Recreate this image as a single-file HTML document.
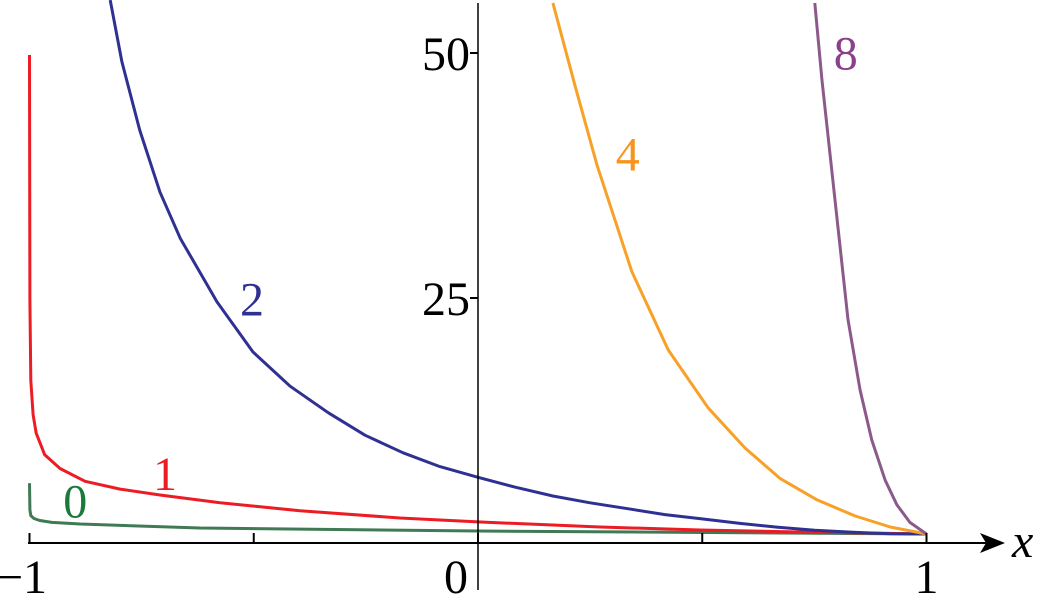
<!DOCTYPE html>
<html><head><meta charset="utf-8"><style>
body{margin:0;background:#fff}
svg text{font-family:"Liberation Serif",serif}
</style></head><body>
<svg id="chart" width="1037" height="594" viewBox="0 0 1037 594" xmlns="http://www.w3.org/2000/svg">
<defs><clipPath id="clip"><rect x="0" y="0" width="1037" height="543"/></clipPath></defs>
<g id="curves" clip-path="url(#clip)"></g>
<g id="axes"></g>
</svg>
<script>
const xTicks=[-1,-0.5,0,0.5,1];
const xTickLabels=["−1","","0","","1"];
const yTicks=[25,50];
const yTickLabels=["25","50"];
const c0x=[-1.0,-0.999,-0.997,-0.99,-0.977,-0.95,-0.887,-0.62,0,1];
const c0y=[6.1,3.4,2.8,2.5,2.3,2.1,1.94,1.53,1.22,0.92];
const c1x=[-1.0,-0.999,-0.997,-0.992,-0.985,-0.966,-0.932,-0.876,-0.798,-0.709,-0.575,-0.397,-0.174,0,0.272,0.495,0.718,1];
const c1y=[49.8,24.8,16.6,13.1,11.2,9.0,7.6,6.3,5.5,4.9,4.1,3.3,2.55,2.15,1.63,1.33,1.12,0.92];
const c2x=[-0.82,-0.794,-0.754,-0.709,-0.664,-0.582,-0.502,-0.419,-0.334,-0.252,-0.167,-0.085,0,0.082,0.167,0.25,0.334,0.417,0.502,0.584,0.669,0.751,0.836,0.919,1];
const c2y=[55.4,49.1,42.1,35.8,31.1,24.6,19.5,16.0,13.3,11.0,9.2,7.8,6.7,5.7,4.8,4.1,3.5,2.9,2.45,2.0,1.6,1.3,1.1,0.95,0.92];
const c4x=[0.167,0.216,0.265,0.343,0.424,0.513,0.595,0.673,0.756,0.841,0.919,1];
const c4y=[55.1,46.7,38.6,27.7,19.7,13.8,9.7,6.6,4.4,2.76,1.63,0.92];
const c8x=[0.751,0.767,0.796,0.825,0.852,0.878,0.908,0.934,0.963,1];
const c8y=[55.1,47.2,35.0,22.8,15.6,10.5,6.4,3.9,2.1,0.92];
const X=v=>478+v*448.5, Y=v=>543-v*9.8;
const NS="http://www.w3.org/2000/svg";
const cg=document.getElementById('curves'), ag=document.getElementById('axes');
function mk(t,a,p){const e=document.createElementNS(NS,t);for(const k in a)e.setAttribute(k,a[k]);p.appendChild(e);return e;}
// [xs, ys, stroke, name, labelX(data), labelBaselineY(data), labelColor, text]
const series=[[c0x,c0y,"#3f7a55","curve-0",-0.898,2.6,"#1a7a3a","0"],[c1x,c1y,"#ec1c24","curve-1",-0.698,5.4,"#ec1c24","1"],[c2x,c2y,"#2e3192","curve-2",-0.504,23.2,"#2e3192","2"],[c4x,c4y,"#f7a128","curve-4",0.334,38.0,"#f7941d","4"],[c8x,c8y,"#8c5a8a","curve-8",0.82,48.3,"#8c3f8a","8"]];
series.forEach(s=>{
 const d=s[0].map((v,i)=>(i?'L':'M')+X(v).toFixed(1)+','+Y(s[1][i]).toFixed(1)).join(' ');
 const p=mk('path',{d:d,fill:'none',stroke:s[2],'stroke-width':3,'stroke-linejoin':'round'},cg);
 
 
 const t=mk('text',{x:X(s[4]),y:Y(s[5]),'font-size':48,fill:s[6],'text-anchor':'middle'},ag);
 t.textContent=s[7];
 
 
});
const xa=mk('line',{x1:28,y1:543,x2:992,y2:543,stroke:'#000','stroke-width':2},ag);


const ar=mk('path',{d:'M1005,543 L980,533 L986,543 L980,553 Z',fill:'#000'},ag);


const ya=mk('line',{x1:478,y1:3,x2:478,y2:590,stroke:'#000','stroke-width':1.5},ag);


xTicks.forEach((v,i)=>{
 const tk=mk('line',{x1:X(v),y1:543,x2:X(v),y2:533,stroke:'#000','stroke-width':2},ag);
 
 
 if(xTickLabels[i]){
  const t=mk('text',{x:X(v),y:593,'font-size':48,'text-anchor':'middle'},ag);
  t.textContent=xTickLabels[i];
  if(v===0)t.setAttribute('x',X(v)-22);
  if(v===-1)t.setAttribute('x',X(v)-8);
  
  
 }
});
yTicks.forEach((v,i)=>{
 const tk=mk('line',{x1:470,y1:Y(v),x2:478,y2:Y(v),stroke:'#000','stroke-width':2},ag);
 
 
 const t=mk('text',{x:470,y:Y(v)+17,'font-size':48,'text-anchor':'end'},ag);
 t.textContent=yTickLabels[i];
 
 
});
const xt=mk('text',{x:1012,y:557,'font-size':48,'font-style':'italic'},ag);xt.textContent='x';


</script>
</body></html>
